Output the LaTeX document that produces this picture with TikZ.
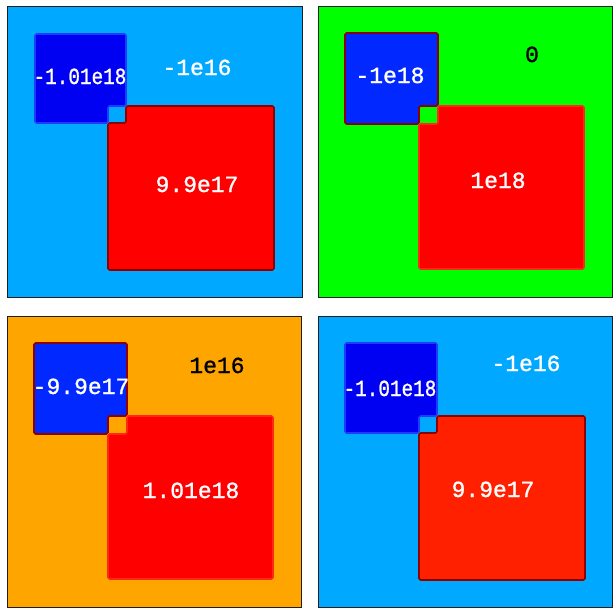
\documentclass[tikz,border=0pt]{standalone}
\usepackage{fontspec}
\newfontfamily\monof[FakeBold=1.2]{Liberation Mono}
\definecolor{bgblue}{RGB}{0,168,255}
\definecolor{bggreen}{RGB}{0,255,0}
\definecolor{bgorange}{RGB}{255,165,0}
\definecolor{sqblue}{RGB}{0,0,242}
\definecolor{sqblueb}{RGB}{0,40,255}
\definecolor{sqred}{RGB}{255,0,0}
\definecolor{sqredb}{RGB}{255,32,0}
\definecolor{darkred}{RGB}{140,0,0}
\definecolor{edgeblue}{RGB}{30,60,255}
\definecolor{edgered}{RGB}{255,40,20}
\definecolor{framegray}{RGB}{30,30,30}
\tikzset{
  frame/.style={draw=framegray,line width=0.8pt},
  shapeedge/.style={line width=1.6pt,rounded corners=1.5pt,line join=round},
  lbl/.style={font=\monof\fontsize{23}{23}\selectfont,anchor=base,inner sep=0pt},
  wlbl/.style={lbl,text=white},
  klbl/.style={lbl,text=black},
}
\begin{document}
\begin{tikzpicture}[x=1pt,y=-1pt]
\useasboundingbox (0,0) rectangle (616,613);
\fill[white] (0,0) rectangle (616,613);
% ---------- panel 1 ----------
\filldraw[frame,fill=bgblue] (7,6) rectangle (302,297);
\filldraw[shapeedge,fill=sqblue,draw=edgeblue] (35,34) -- (126,34) -- (126,106) -- (108,106) -- (108,123) -- (35,123) -- cycle;
\filldraw[shapeedge,fill=sqred,draw=darkred] (126,106) -- (274,106) -- (274,270) -- (108,270) -- (108,123) -- (126,123) -- cycle;
\node[wlbl,xscale=0.84] (p1a) at (80,84) {-1.01e18};
\node[wlbl] (p1b) at (197,75) {-1e16};
\node[wlbl] (p1c) at (197,192) {9.9e17};
% ---------- panel 2 ----------
\filldraw[frame,fill=bggreen] (318,6) rectangle (612,297);
\filldraw[shapeedge,fill=sqblueb,draw=darkred] (345,33) -- (438,33) -- (438,106) -- (419,106) -- (419,124) -- (345,124) -- cycle;
\filldraw[shapeedge,fill=sqred,draw=edgered] (438,106) -- (584,106) -- (584,269) -- (419,269) -- (419,124) -- (438,124) -- cycle;
\node[wlbl] (p2a) at (390,83) {-1e18};
\node[klbl] (p2b) at (532,62) {0};
\node[wlbl] (p2c) at (498,188) {1e18};
% ---------- panel 3 ----------
\filldraw[frame,fill=bgorange] (7,316) rectangle (301,607);
\filldraw[shapeedge,fill=sqblueb,draw=darkred] (34,343) -- (127,343) -- (127,416) -- (108,416) -- (108,434) -- (34,434) -- cycle;
\filldraw[shapeedge,fill=sqred,draw=edgered] (127,416) -- (273,416) -- (273,579) -- (108,579) -- (108,434) -- (127,434) -- cycle;
\node[wlbl] (p3a) at (81,394) {-9.9e17};
\node[klbl] (p3b) at (217,373) {1e16};
\node[wlbl] (p3c) at (191,498) {1.01e18};
% ---------- panel 4 ----------
\filldraw[frame,fill=bgblue] (318,316) rectangle (612,607);
\filldraw[shapeedge,fill=sqblue,draw=edgeblue] (345,343) -- (437,343) -- (437,416) -- (419,416) -- (419,433) -- (345,433) -- cycle;
\filldraw[shapeedge,fill=sqredb,draw=darkred] (437,416) -- (585,416) -- (585,580) -- (419,580) -- (419,433) -- (437,433) -- cycle;
\node[wlbl,xscale=0.84] (p4a) at (390,396) {-1.01e18};
\node[wlbl] (p4b) at (526,371) {-1e16};
\node[wlbl] (p4c) at (493,497) {9.9e17};
\end{tikzpicture}
\end{document}
